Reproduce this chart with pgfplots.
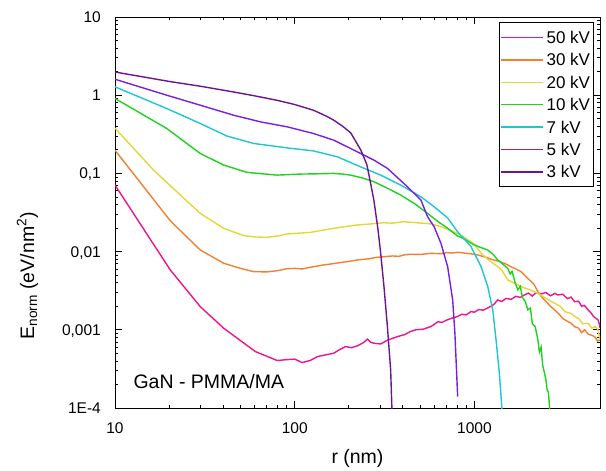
\documentclass[border=0pt]{standalone}
\usepackage{fontspec}
\setmainfont{Liberation Sans}
\usepackage{pgfplots}
\pgfplotsset{compat=1.18}
\definecolor{c50}{RGB}{240,20,140}
\definecolor{c30}{RGB}{242,128,48}
\definecolor{c20}{RGB}{228,214,56}
\definecolor{c10}{RGB}{30,210,30}
\definecolor{c7}{RGB}{30,198,210}
\definecolor{c5}{RGB}{122,30,228}
\definecolor{c3}{RGB}{110,20,140}
\begin{document}
\begin{tikzpicture}
\useasboundingbox (-115pt,-63pt) rectangle (491pt,408pt);
\begin{axis}[
  at={(0pt,0pt)}, anchor=south west, scale only axis,
  width=485pt, height=391pt,
  xmode=log, ymode=log, xmin=10, xmax=5000, ymin=1e-4, ymax=10,
  xtick={10,100,1000}, xticklabels={10,100,1000},
  ytick={1e-4,1e-3,1e-2,1e-1,1,10},
  yticklabels={1E-4,{0,001},{0,01},{0,1},1,10},
  tick align=inside, major tick length=7pt, minor tick length=3.5pt,
  axis line style={line width=0.9pt},
  every tick/.style={line width=0.8pt, black},
  tick label style={font=\fontsize{15.5}{16}\selectfont},
  yticklabel style={anchor=east, inner sep=0pt, xshift=-14pt, text height=11.1pt, text depth=0pt},
  xticklabel style={anchor=north, inner sep=0pt, yshift=-14pt, text height=11.1pt, text depth=0pt},
  xlabel={r (nm)},
  ylabel={E\textsubscript{norm} (eV/nm\textsuperscript{2})},
  every axis x label/.style={at={(axis description cs:0.5,-0.1407)}, anchor=base, font=\fontsize{19.5}{20}\selectfont},
  every axis y label/.style={at={(axis description cs:-0.167,0.338)}, rotate=90, anchor=base, font=\fontsize{19.5}{20}\selectfont},
  every axis plot/.append style={line width=1.4pt, mark=none},
  legend style={at={(1,1)}, anchor=north east, xshift=-6pt, yshift=-5.5pt,
    draw=black, line width=0.8pt, inner xsep=1pt, inner ysep=6pt, row sep=5.2pt,
    font=\fontsize{17}{17}\selectfont,
    nodes={inner sep=2.5pt, text height=12.2pt, text depth=0pt}},
  legend cell align=left,
  legend image code/.code={\draw[#1, line width=1.4pt] (0pt,0pt) -- (42pt,0pt);},
]
\addplot[c50] coordinates {
(10,0.0709) (20.3,0.00583) (29.8,0.00198) (40.2,0.00105) (60.4,0.000527)
(79.9,0.000405) (90,0.000415) (100,0.000422) (110,0.000381) (122,0.000405)
(134,0.000455) (150,0.00048) (165,0.000502) (178,0.00056) (192,0.00061)
(207,0.00059) (223,0.000623) (240,0.00068) (254,0.000759) (265,0.00069)
(280,0.00067) (301,0.00066) (330,0.00074) (373,0.000818) (410,0.00087)
(440,0.00095) (472,0.001) (520,0.00102) (573,0.0011) (600,0.00118)
(626,0.00127) (660,0.00124) (700,0.00133) (750,0.00141) (807,0.00148)
(850,0.00158) (900,0.00155) (957,0.00171) (1000,0.00168) (1060,0.00182)
(1120,0.00178) (1211,0.00195) (1280,0.0021) (1349,0.00241) (1420,0.0023)
(1500,0.00252) (1600,0.00245) (1700,0.00268) (1800,0.0026) (1898,0.00279)
(2000,0.00295) (2100,0.0027) (2200,0.00298) (2360,0.00288) (2500,0.0030)
(2650,0.00272) (2800,0.00292) (2916,0.00279) (3100,0.00285) (3300,0.0025)
(3450,0.00262) (3610,0.00229) (3800,0.00232) (3950,0.002) (4100,0.00205)
(4288,0.0018) (4450,0.00165) (4600,0.00148) (4750,0.0014) (4876,0.00134)
(4950,0.0012) (5000,0.00106)
};
\addlegendentry{50 kV}
\addplot[c30] coordinates {
(10,0.198) (20.3,0.0248) (29.8,0.0105) (40.2,0.0071) (50,0.0061) (59.1,0.00554)
(70,0.0055) (79.9,0.0057) (90.8,0.00605) (100,0.0061) (110,0.0060) (122,0.0063)
(145,0.00675) (170,0.0071) (200,0.0075) (223,0.00782) (260,0.0081) (280,0.0084)
(314,0.00861) (350,0.0088) (380,0.0087) (410,0.0091) (443,0.00925) (500,0.0092)
(573,0.0095) (650,0.0094) (700,0.0097) (750,0.0096) (807,0.0098) (870,0.0096)
(950,0.0094) (1043,0.00906) (1150,0.0085) (1260,0.0079) (1369,0.0075)
(1469,0.0071) (1600,0.0064) (1700,0.006) (1820,0.00554) (1900,0.0050)
(2070,0.00413) (2150,0.0038) (2250,0.0031) (2360,0.00266) (2500,0.0023)
(2650,0.0020) (2792,0.0018) (2950,0.0016) (3100,0.0014) (3300,0.00128)
(3460,0.00121) (3600,0.0011) (3800,0.00105) (3950,0.00092) (4105,0.001)
(4300,0.00088) (4500,0.00085) (4668,0.000818) (4850,0.00072) (5000,0.000743)
};
\addlegendentry{30 kV}
\addplot[c20] coordinates {
(10,0.379) (16.4,0.110) (22.1,0.0582) (29.8,0.0308) (40.2,0.0199) (52,0.016)
(60,0.0154) (70.2,0.0152) (80,0.0158) (90.8,0.0168) (105,0.0172) (122,0.0176)
(145,0.0189) (180,0.0205) (223,0.0219) (260,0.0225) (314,0.0234) (350,0.0231)
(406,0.0241) (450,0.0236) (525,0.023) (580,0.0225) (651,0.0208) (720,0.019)
(807,0.0171) (880,0.0152) (950,0.0135) (1004,0.0121) (1090,0.0095) (1150,0.0085)
(1200,0.0078) (1349,0.00641) (1420,0.0058) (1534,0.00434) (1650,0.0040)
(1820,0.00356) (2000,0.0033) (2256,0.00293) (2450,0.0026) (2600,0.0024)
(2792,0.00219) (3000,0.0020) (3200,0.0017) (3450,0.00162) (3610,0.00148)
(3800,0.0014) (4000,0.0012) (4288,0.00121) (4500,0.00105) (4700,0.0011)
(4876,0.001) (4950,0.00085) (5000,0.000743)
};
\addlegendentry{20 kV}
\addplot[c10] coordinates {
(10,0.908) (19.4,0.376) (29.8,0.18) (40.2,0.128) (54.3,0.103) (79.9,0.0951)
(107,0.098) (140,0.099) (165,0.1) (185,0.098) (205,0.095) (240,0.087)
(276,0.0782) (328,0.0646) (389,0.0529) (462,0.0414) (549,0.0308) (630,0.024)
(710,0.0199) (800,0.016) (880,0.0145) (957,0.0128) (1060,0.0115) (1187,0.0105)
(1270,0.0092) (1349,0.00782) (1440,0.0069) (1534,0.00612) (1580,0.0052)
(1620,0.0056) (1680,0.0041) (1744,0.00324) (1800,0.0036) (1850,0.0026)
(1920,0.0023) (1984,0.0018) (2050,0.0019) (2100,0.0012) (2180,0.0011)
(2256,0.000743) (2300,0.00052) (2350,0.0006) (2400,0.00035) (2455,0.000279)
(2500,0.00023) (2540,0.00017) (2580,0.00016) (2618,0.000105) (2630,0.00009)
};
\addlegendentry{10 kV}
\addplot[c7] coordinates {
(10,1.28) (19.4,0.676) (29.8,0.435) (42,0.30) (59.1,0.2415) (90.8,0.212)
(127,0.194) (173,0.163) (233,0.121) (301,0.0951) (389,0.0709) (504,0.0502)
(597,0.0375) (710,0.0269) (807,0.0179) (957,0.0116) (1090,0.00641)
(1187,0.00356) (1265,0.0018) (1320,0.000743) (1377,0.000279) (1420,0.000105)
(1425,0.00009)
};
\addlegendentry{7 kV}
\addplot[c5] coordinates {
(10,1.60) (19.4,1.0) (29.8,0.745) (45.7,0.555) (64.5,0.456) (90.8,0.394)
(127,0.324) (165,0.266) (214,0.198) (276,0.148) (328,0.116) (424,0.0675)
(504,0.0456) (549,0.0279) (597,0.0208) (651,0.0128) (710,0.00641)
(757,0.00241) (779,0.000906) (807,0.00014)
};
\addlegendentry{5 kV}
\addplot[c3] coordinates {
(10,1.98) (20,1.50) (30,1.30) (45.7,1.10) (60,0.98) (79.9,0.86) (100,0.76)
(127,0.643) (150,0.54) (165,0.479) (185,0.40) (205,0.33) (233,0.20)
(252,0.13) (266,0.07) (276,0.045) (291,0.0189) (301,0.0095) (314,0.00356)
(328,0.0011) (342,0.000308) (348,0.00009)
};
\addlegendentry{3 kV}
\node[anchor=base west, font=\fontsize{19.5}{20}\selectfont] at (rel axis cs:0.031,0.051) {GaN - PMMA/MA};
\end{axis}
\end{tikzpicture}
\end{document}
